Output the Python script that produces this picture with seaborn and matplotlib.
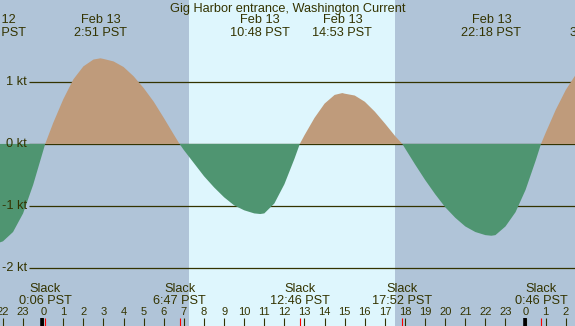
import matplotlib
matplotlib.use("Agg")
import pandas as pd
import matplotlib.pyplot as plt
import seaborn as sns

# tidal current: hours from midnight Feb 13 (PST) and knots
curve_hours = [-2.5, -2.35, -2.0, -1.5, -1.0, -0.5, 0.0, 0.1,
               0.5, 1.0, 1.5, 2.0, 2.5, 2.85,
               3.0, 3.5, 4.0, 4.5, 5.0, 5.5, 6.0, 6.5, 6.783,
               7.0, 7.5, 8.0, 8.5, 9.0, 9.5, 10.0, 10.5, 10.8,
               11.0, 11.5, 12.0, 12.5, 12.767,
               13.0, 13.5, 14.0, 14.5, 14.883,
               15.0, 15.5, 16.0, 16.5, 17.0, 17.5, 17.867,
               18.0, 18.5, 19.0, 19.5, 20.0, 20.5, 21.0, 21.5, 22.0, 22.3,
               22.5, 23.0, 23.5, 24.0, 24.5, 24.767,
               25.0, 25.5, 26.0, 26.5]
curve_knots = [-1.60, -1.61, -1.57, -1.42, -1.12, -0.66, -0.11, 0.0,
               0.34, 0.72, 1.04, 1.25, 1.36, 1.38,
               1.37, 1.33, 1.24, 1.09, 0.90, 0.68, 0.42, 0.15, 0.0,
               -0.10, -0.31, -0.52, -0.70, -0.86, -0.99, -1.07, -1.12, -1.13,
               -1.12, -0.96, -0.65, -0.24, 0.0,
               0.14, 0.42, 0.65, 0.79, 0.82,
               0.81, 0.78, 0.68, 0.52, 0.33, 0.13, 0.0,
               -0.07, -0.33, -0.58, -0.81, -1.02, -1.19, -1.33, -1.42, -1.47, -1.48,
               -1.47, -1.33, -1.10, -0.74, -0.27, 0.0,
               0.18, 0.55, 0.87, 1.12]

max_hours = [-2.35, 2.85, 10.8, 14.883, 22.3, 27.5]
max_dates = ["Feb 12", "Feb 13", "Feb 13", "Feb 13", "Feb 13", "Feb 14"]
max_times = ["21:39 PST", "2:51 PST", "10:48 PST", "14:53 PST", "22:18 PST", "3:28 PST"]

slack_hours = [0.1, 6.783, 12.767, 17.867, 24.767]
slack_times = ["0:06 PST", "6:47 PST", "12:46 PST", "17:52 PST", "0:46 PST"]

level_knots = [1, 0, -1, -2]
level_labels = ["1 kt", "0 kt", "-1 kt", "-2 kt"]

hour_ticks = list(range(-2, 27))
sunrise, sunset = 7.25, 17.5

night = "#b0c4d8"
day = "#def6fd"
flood = "#bf9b7b"
ebb = "#4f9571"
ink = "#333300"

sns.set_theme(style="white")
plt.rcParams["font.family"] = ["Liberation Sans", "DejaVu Sans"]

df = pd.DataFrame({"hour": curve_hours, "knots": curve_knots})

fig = plt.figure(figsize=(5.75, 3.26), dpi=100)
fig.patch.set_facecolor(night)
ax = fig.add_axes([0, 0, 1, 1])
ax.set_axis_off()
ax.set_xlim(-2.149, 26.458)
ax.set_ylim(-2.935, 2.32)

ax.axvspan(sunrise, sunset, color=day, lw=0, zorder=0)
ax.hlines(level_knots, -0.70, 27, color=ink, lw=0.9, zorder=1)
ax.fill_between(df["hour"], df["knots"], 0, where=df["knots"] >= 0,
                interpolate=True, color=flood, lw=0, zorder=2)
ax.fill_between(df["hour"], df["knots"], 0, where=df["knots"] <= 0,
                interpolate=True, color=ebb, lw=0, zorder=2)

for k, lab in zip(level_knots, level_labels):
    ax.text(-0.80, k, lab, ha="right", va="center", fontsize=9.2, color=ink)

xt = ax.get_xaxis_transform()
ax.text(0.5, 1 - 12 / 326, "Gig Harbor entrance, Washington Current",
        transform=ax.transAxes, ha="center", va="baseline", fontsize=9.2, color=ink)

for h, d, t in zip(max_hours, max_dates, max_times):
    ax.text(h, 1 - 23.3 / 326, d, transform=xt, ha="center", va="baseline",
            fontsize=9.2, color=ink)
    ax.text(h, 1 - 36 / 326, t, transform=xt, ha="center", va="baseline",
            fontsize=9.2, color=ink)

for h, t in zip(slack_hours, slack_times):
    ax.text(h, 1 - 292 / 326, "Slack", transform=xt, ha="center", va="baseline",
            fontsize=9.2, color=ink)
    ax.text(h, 1 - 304 / 326, t, transform=xt, ha="center", va="baseline",
            fontsize=9.2, color=ink)

for h in hour_ticks:
    ax.text(h, 1 - 315 / 326, str(h % 24), transform=xt, ha="center",
            va="baseline", fontsize=8, color=ink)

tick_top = 8 / 326
ax.vlines(hour_ticks, 0, tick_top, transform=xt, color=ink, lw=0.8)
ax.vlines([-0.05, 23.95], 0, tick_top, transform=xt, color="black", lw=2.6)
ax.vlines(slack_hours, 0, tick_top, transform=xt, color="red", lw=0.8)

fig.savefig("out.png", dpi=100, facecolor=fig.get_facecolor())
